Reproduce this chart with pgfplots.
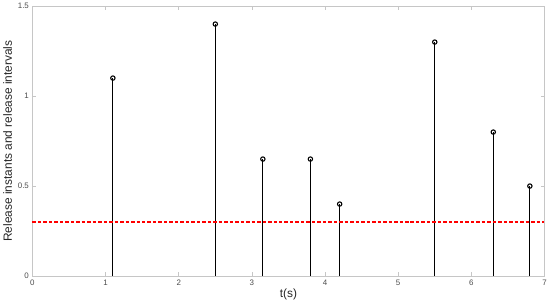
\documentclass[border=0pt]{standalone}
\usepackage{pgfplots}
\pgfplotsset{compat=1.18}
\usepackage{fontspec}
\setmainfont{Liberation Sans}
\begin{document}
\begin{tikzpicture}[x=1bp,y=1bp]
\begin{axis}[
    scale only axis,
    width=514bp, height=271bp,
    xmin=0, xmax=7,
    ymin=0, ymax=1.5,
    xtick={0,1,...,7},
    ytick={0,0.5,1,1.5},
    axis line style={gray!45, line width=0.6pt},
    tick style={gray!45, line width=0.5pt},
    major tick length=4bp,
    tick align=inside,
    tick label style={font=\fontsize{8}{9}\selectfont, text=black!70},
    /pgf/number format/assume math mode=true,
    xlabel={t(s)},
    ylabel={Release instants and release intervals},
    label style={font=\fontsize{12}{14}\selectfont, text=black!85},
    xlabel style={yshift=3bp},
    ylabel style={yshift=-1bp},
    clip=false,
    ]
    \addplot[ycomb, draw=black, line width=1.1pt, mark=o, mark size=2.2pt,
        mark options={line width=1.1pt, draw=black}] coordinates {
        (1.1,1.1) (2.5,1.4) (3.15,0.65) (3.8,0.65)
        (4.2,0.4) (5.5,1.3) (6.3,0.8) (6.8,0.5)
    };
    \addplot[draw=red, color=red, line width=1.3pt, dash pattern=on 3.5bp off 2bp] coordinates {
        (0,0.3) (7,0.3)
    };
\end{axis}
\end{tikzpicture}
\end{document}
